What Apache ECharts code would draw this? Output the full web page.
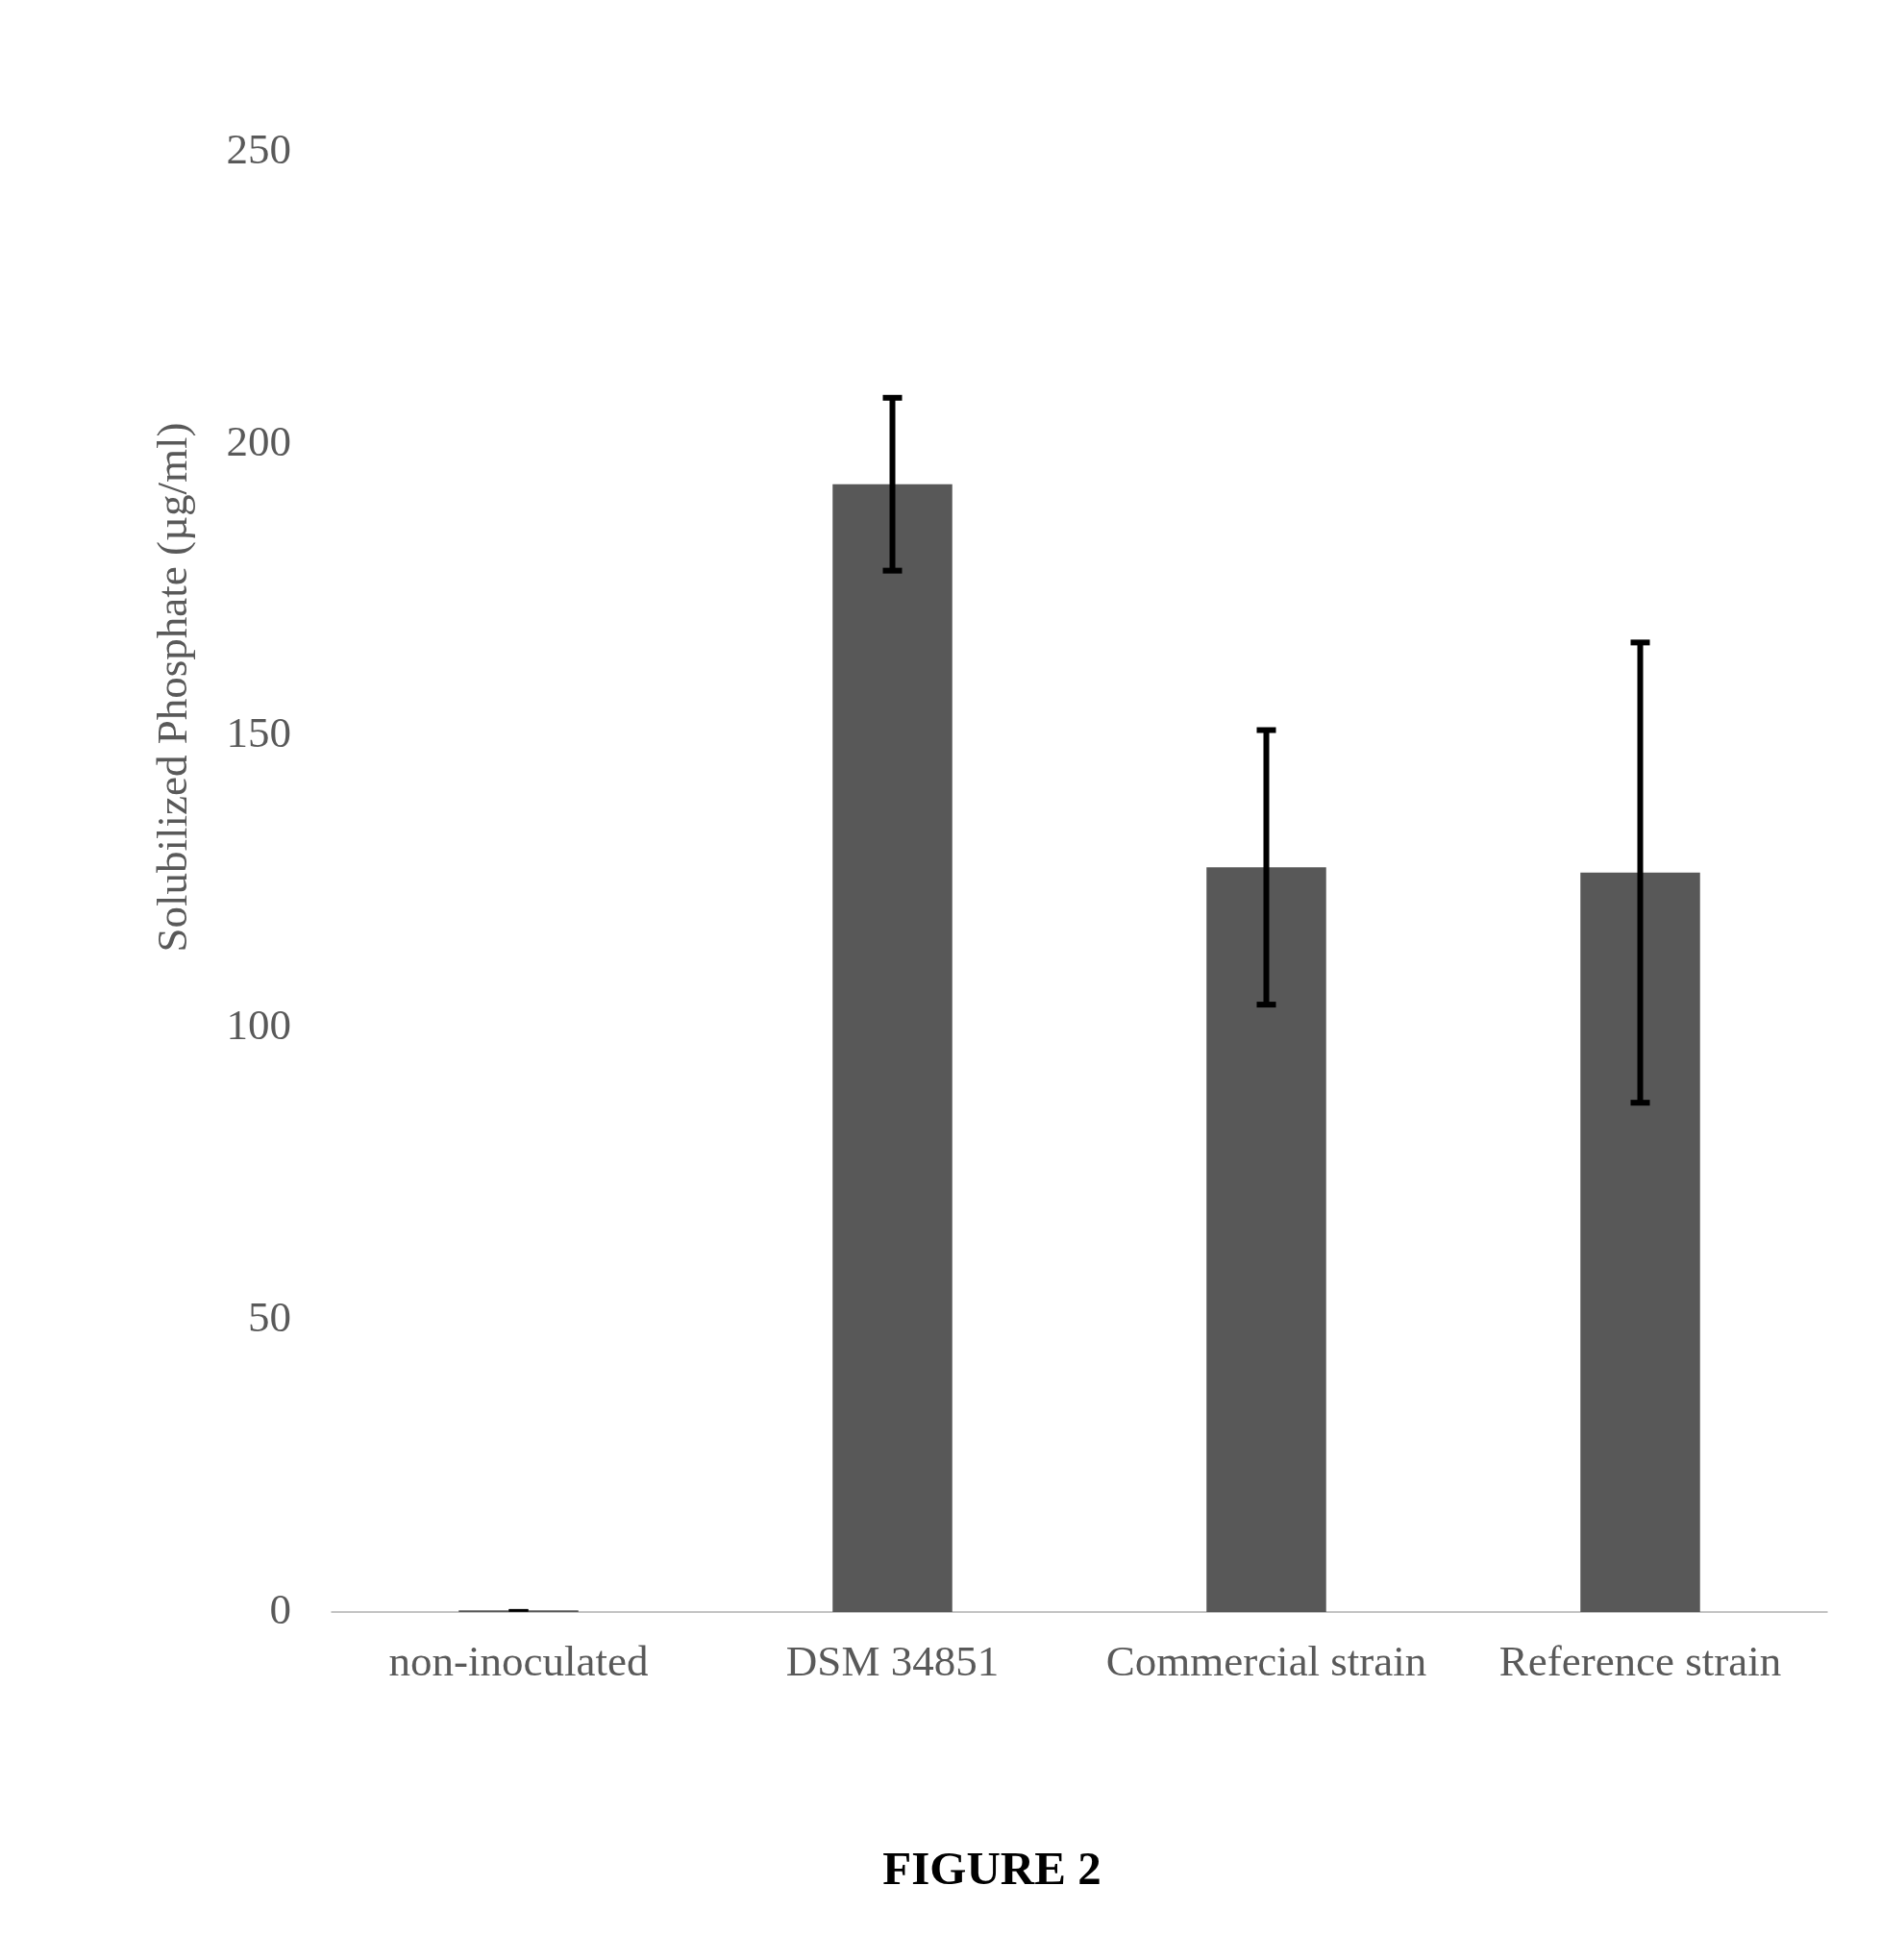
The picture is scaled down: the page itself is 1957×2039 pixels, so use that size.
<!DOCTYPE html>
<html>
<head>
<meta charset="utf-8">
<script src="https://cdn.jsdelivr.net/npm/echarts@6/dist/echarts.min.js"></script>
<style>
  html, body { margin: 0; padding: 0; background: #fff; }
  #chart { width: 1957px; height: 2039px; }
</style>
</head>
<body>
<div id="chart"></div>
<script>
// data
var categories = ['non-inoculated', 'DSM 34851', 'Commercial strain', 'Reference strain'];
var meanValues = [0.3, 193.1, 127.5, 126.6];
var errorValues = [0, 14.8, 23.5, 39.4];
var yTicks = [0, 50, 100, 150, 200, 250];

var chart = echarts.init(document.getElementById('chart'));

var errorData = categories.map(function (c, i) {
    return [i, meanValues[i] - errorValues[i], meanValues[i] + errorValues[i]];
});

var font = 'Liberation Serif';

var option = {
    backgroundColor: '#ffffff',
    animation: false,
    grid: {
        left: 345,
        right: 56,
        top: 158,
        bottom: 362
    },
    xAxis: {
        type: 'category',
        data: categories,
        axisLine: { show: true, lineStyle: { color: '#b0b0b0', width: 1.5 } },
        axisTick: { show: false },
        axisLabel: {
            interval: 0,
            color: '#595959',
            fontFamily: font,
            fontSize: 45,
            margin: 32
        }
    },
    yAxis: {
        type: 'value',
        min: yTicks[0],
        max: yTicks[yTicks.length - 1],
        interval: 50,
        axisLine: { show: false },
        axisTick: { show: false },
        splitLine: { show: false },
        axisLabel: {
            color: '#595959',
            fontFamily: font,
            fontSize: 45,
            margin: 42,
            padding: [4, 0, 0, 0]
        }
    },
    series: [
        {
            name: 'Solubilized Phosphate',
            type: 'bar',
            data: meanValues,
            barWidth: '32%',
            itemStyle: { color: '#585858' }
        },
        {
            type: 'custom',
            data: errorData,
            z: 10,
            renderItem: function (params, api) {
                var x = api.value(0);
                var low = api.coord([x, api.value(1)]);
                var high = api.coord([x, api.value(2)]);
                var half = 10;
                var w = high[1] === low[1] ? 2.5 : 6;
                var style = { stroke: '#000', lineWidth: w };
                return {
                    type: 'group',
                    children: [
                        { type: 'line', shape: { x1: high[0], y1: high[1], x2: low[0], y2: low[1] }, style: style },
                        { type: 'line', shape: { x1: high[0] - half, y1: high[1], x2: high[0] + half, y2: high[1] }, style: style },
                        { type: 'line', shape: { x1: low[0] - half, y1: low[1], x2: low[0] + half, y2: low[1] }, style: style }
                    ]
                };
            }
        }
    ],
    graphic: [
        {
            type: 'text',
            x: 182,
            y: 715,
            rotation: Math.PI / 2,
            style: {
                text: 'Solubilized Phosphate (µg/ml)',
                fontFamily: font,
                fontSize: 45,
                fill: '#595959',
                textAlign: 'center',
                textVerticalAlign: 'middle'
            }
        },
        {
            type: 'text',
            x: 1032,
            y: 1947,
            style: {
                text: 'FIGURE 2',
                fontFamily: font,
                fontWeight: 'bold',
                fontSize: 49,
                fill: '#000',
                textAlign: 'center',
                textVerticalAlign: 'middle'
            }
        }
    ]
};

chart.setOption(option);
</script>
</body>
</html>
